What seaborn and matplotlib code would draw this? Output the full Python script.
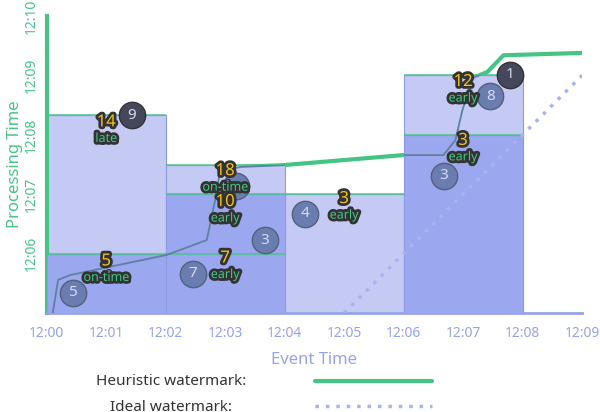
import matplotlib
matplotlib.use('Agg')
import matplotlib.pyplot as plt
import matplotlib.patheffects as pe
import seaborn as sns
import pandas as pd

# minutes after 12:00 (event time) / after 12:05 (processing time)
win_starts = [0, 2, 4, 6]
win_panes = [[1.0, 3.33], [1.0, 2.0, 2.5], [2.0], [3.0, 4.0]]

heur_x = [0.10, 0.19, 0.39, 2.02, 2.69, 2.83, 2.91, 3.25, 3.97, 5.99, 6.67, 6.87, 6.99, 7.17, 7.41, 7.68, 9.0]
heur_y = [0.0, 0.56, 0.64, 0.98, 1.23, 1.90, 2.37, 2.46, 2.49, 2.66, 2.66, 2.91, 3.42, 3.96, 4.06, 4.34, 4.38]
ideal_x = [5.0, 9.0]
ideal_y = [0.0, 4.0]

pt_x = [1.43, 0.44, 2.46, 3.67, 3.18, 4.34, 6.68, 7.46, 7.79]
pt_y = [3.33, 0.34, 0.66, 1.23, 2.14, 1.67, 2.31, 3.65, 4.01]
pt_val = ['9', '5', '7', '3', '', '4', '3', '8', '1']
pt_dark = [True, False, False, False, False, False, False, False, True]

res_x = [1.0, 1.0, 3.0, 3.0, 3.0, 5.0, 7.0, 7.0]
res_y = [3.07, 0.73, 2.25, 1.73, 0.78, 1.78, 2.76, 3.75]
res_num = ['14', '5', '18', '10', '7', '3', '3', '12']
res_word = ['late', 'on-time', 'on-time', 'early', 'early', 'early', 'early', 'early']

x_ticks = [f'12:{m:02d}' for m in range(10)]
y_ticks = [f'12:{m:02d}' for m in range(6, 11)]

GREEN = '#45c486'
LIGHT = '#c4caf3'
MED = '#9ba7ee'
AXIS_BLUE = '#97a3e8'
YELLOW = '#f5c21b'
DARK = '#333333'

sns.set_theme(style='white')
plt.rcParams['font.family'] = ['Noto Sans', 'DejaVu Sans']

fig = plt.figure(figsize=(6, 4.12), dpi=100)
ax = fig.add_axes([0.078, 0.24, 0.892, 0.721])

# heuristic watermark (thick, hidden by panes)
sns.lineplot(x=heur_x, y=heur_y, ax=ax, color=GREEN, lw=3, zorder=1, sort=False)

# panes
top_bars = []
for s, panes in zip(win_starts, win_panes):
    top = panes[-1]
    b = ax.bar(s, top, width=2, align='edge', color=LIGHT, edgecolor='#8e9ae6', lw=0.8, zorder=2)
    top_bars.append(b.patches[0])
    for p in panes[:-1]:
        ax.bar(s, p, width=2, align='edge', color=MED, edgecolor='#8e9ae6', lw=0.8, zorder=3)
    for p in panes:
        ax.hlines(p, s, s + 2, color=GREEN, lw=1.5, alpha=0.7, zorder=4)

# thin trace of the heuristic watermark seen through the panes
for patch in top_bars:
    sns.lineplot(x=heur_x, y=heur_y, ax=ax, color='#5f80a0', lw=1.3, zorder=5, sort=False)
    ax.lines[-1].set_clip_path(patch)

# ideal watermark
sns.lineplot(x=ideal_x, y=ideal_y, ax=ax, color='#a9b3ef', lw=2.5, zorder=5,
             linestyle=(0, (1, 2)))

# data points
df = pd.DataFrame({'x': pt_x, 'y': pt_y, 'v': pt_val, 'd': pt_dark})
sns.scatterplot(data=df[~df.d], x='x', y='y', ax=ax, s=360, color='#6a7db0',
                edgecolor='#55607a', linewidth=1, zorder=6)
sns.scatterplot(data=df[df.d], x='x', y='y', ax=ax, s=360, color='#45485a',
                edgecolor=DARK, linewidth=1, zorder=6)
for x, y, v in zip(pt_x, pt_y, pt_val):
    ax.text(x, y, v, ha='center', va='center', fontsize=11, color='#d5dbf5',
            fontweight='bold', zorder=7)

# results
stroke = [pe.withStroke(linewidth=4, foreground=DARK)]
for x, y, n, w in zip(res_x, res_y, res_num, res_word):
    ax.text(x, y + 0.14, n, ha='center', va='center', fontsize=12, fontweight='bold',
            color=YELLOW, path_effects=stroke, zorder=8)
    ax.text(x, y - 0.13, w, ha='center', va='center', fontsize=9, fontweight='bold',
            color=GREEN, path_effects=stroke, zorder=8)

ax.set_xlim(0, 9)
ax.set_ylim(0, 5)
ax.set_xticks(range(10))
ax.set_xticklabels(x_ticks, color=AXIS_BLUE, fontsize=10)
ax.set_yticks(range(1, 6))
ax.set_yticklabels(y_ticks, color=GREEN, fontsize=10, rotation=90, va='center')
ax.tick_params(axis='x', length=5, width=1, color=AXIS_BLUE, direction='out', pad=4)
ax.tick_params(axis='y', length=5, width=1, color=GREEN, direction='inout', pad=3)
for sp in ['top', 'right']:
    ax.spines[sp].set_visible(False)
ax.spines['left'].set_color(GREEN)
ax.spines['left'].set_linewidth(3)
ax.spines['bottom'].set_color(AXIS_BLUE)
ax.spines['bottom'].set_linewidth(2)
ax.set_xlabel('Event Time', color=AXIS_BLUE, fontsize=12, labelpad=8)
ax.set_ylabel('Processing Time', color=GREEN, fontsize=12, labelpad=1)

# legend
fig.text(0.285, 0.075, 'Heuristic watermark:', ha='center', va='center', fontsize=11, color=DARK)
fig.text(0.285, 0.012, 'Ideal watermark:', ha='center', va='center', fontsize=11, color=DARK)
fig.add_artist(plt.Line2D([0.525, 0.72], [0.075, 0.075], color=GREEN, lw=3))
fig.add_artist(plt.Line2D([0.525, 0.72], [0.015, 0.015], color='#a9b3ef', lw=2.5,
                          linestyle=(0, (1, 2))))

fig.savefig('out.png', dpi=100)
